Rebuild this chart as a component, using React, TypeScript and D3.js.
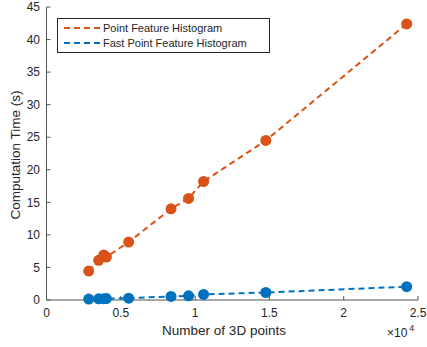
import React, { useEffect, useRef } from "react";
import * as d3 from "d3";

// x values in units of 10^4 points
const xPoints = [0.284, 0.351, 0.385, 0.403, 0.553, 0.838, 0.956, 1.057, 1.476, 2.424];
const pfhTimes = [4.45, 6.1, 6.9, 6.6, 8.9, 14.0, 15.6, 18.2, 24.5, 42.4];
const fpfhTimes = [0.15, 0.18, 0.2, 0.22, 0.28, 0.55, 0.65, 0.85, 1.15, 2.05];

const xTicks = [0, 0.5, 1, 1.5, 2, 2.5];
const yTicks = [0, 5, 10, 15, 20, 25, 30, 35, 40, 45];

const seriesNames = ["Point Feature Histogram", "Fast Point Feature Histogram"];
const seriesColors = ["#D95319", "#0072BD"];

const App = () => {
  const svgRef = useRef<SVGSVGElement>(null);

  useEffect(() => {
    const width = 427;
    const height = 347;
    const svg = d3.select(svgRef.current);
    svg.selectAll("*").remove();

    const font = "'Liberation Sans', Arial, sans-serif";
    const axisColor = "#555";
    const textColor = "#262626";

    const x = d3.scaleLinear().domain([0, 2.5]).range([46.5, 418]);
    const y = d3.scaleLinear().domain([0, 45]).range([300, 7]);

    // y axis
    svg
      .append("line")
      .attr("x1", x(0))
      .attr("x2", x(0))
      .attr("y1", y(0))
      .attr("y2", y(45))
      .attr("stroke", axisColor);
    svg
      .selectAll("line.ytick")
      .data(yTicks)
      .join("line")
      .attr("class", "ytick")
      .attr("x1", x(0))
      .attr("x2", x(0) + 4)
      .attr("y1", (d) => y(d))
      .attr("y2", (d) => y(d))
      .attr("stroke", axisColor);
    svg
      .selectAll("text.ylab")
      .data(yTicks)
      .join("text")
      .attr("class", "ylab")
      .attr("x", 40)
      .attr("y", (d) => y(d))
      .attr("dy", "0.35em")
      .attr("text-anchor", "end")
      .style("font-family", font)
      .style("font-size", "12px")
      .style("fill", textColor)
      .text((d) => d);

    // x axis
    svg
      .append("line")
      .attr("x1", x(0))
      .attr("x2", x(2.5))
      .attr("y1", y(0))
      .attr("y2", y(0))
      .attr("stroke", axisColor);
    svg
      .selectAll("line.xtick")
      .data(xTicks)
      .join("line")
      .attr("class", "xtick")
      .attr("x1", (d) => x(d))
      .attr("x2", (d) => x(d))
      .attr("y1", y(0))
      .attr("y2", y(0) - 4)
      .attr("stroke", axisColor);
    svg
      .selectAll("text.xlab")
      .data(xTicks)
      .join("text")
      .attr("class", "xlab")
      .attr("x", (d) => x(d))
      .attr("y", 317)
      .attr("text-anchor", "middle")
      .style("font-family", font)
      .style("font-size", "12px")
      .style("fill", textColor)
      .text((d) => d);

    // axis titles
    svg
      .append("text")
      .attr("x", 224)
      .attr("y", 335)
      .attr("text-anchor", "middle")
      .style("font-family", font)
      .style("font-size", "13.5px")
      .style("fill", textColor)
      .text("Number of 3D points");
    svg
      .append("text")
      .attr("transform", "translate(20,155) rotate(-90)")
      .attr("text-anchor", "middle")
      .style("font-family", font)
      .style("font-size", "13.5px")
      .style("fill", textColor)
      .text("Computation Time (s)");

    const exp = svg
      .append("text")
      .attr("x", 387)
      .attr("y", 337)
      .style("font-family", font)
      .style("font-size", "12px")
      .style("fill", textColor);
    exp.append("tspan").text("×10");
    exp.append("tspan").attr("dx", 2).attr("dy", -6).style("font-size", "9px").text("4");

    // series
    const line = d3
      .line<number>()
      .x((d, i) => x(xPoints[i]))
      .y((d) => y(d));

    [pfhTimes, fpfhTimes].forEach((vals, si) => {
      svg
        .append("path")
        .attr("d", line(vals))
        .attr("fill", "none")
        .attr("stroke", seriesColors[si])
        .attr("stroke-width", 2)
        .attr("stroke-dasharray", "6,4");
      svg
        .selectAll(`circle.s${si}`)
        .data(vals)
        .join("circle")
        .attr("class", `s${si}`)
        .attr("cx", (d, i) => x(xPoints[i]))
        .attr("cy", (d) => y(d))
        .attr("r", 5.5)
        .attr("fill", seriesColors[si]);
    });

    // legend
    const lg = svg.append("g");
    lg.append("rect")
      .attr("x", 57.5)
      .attr("y", 18.5)
      .attr("width", 212)
      .attr("height", 34)
      .attr("fill", "white")
      .attr("stroke", "#262626");
    seriesNames.forEach((name, i) => {
      const ly = 28 + i * 15;
      lg.append("line")
        .attr("x1", 64)
        .attr("x2", 100)
        .attr("y1", ly)
        .attr("y2", ly)
        .attr("stroke", seriesColors[i])
        .attr("stroke-width", 2)
        .attr("stroke-dasharray", "6,4");
      lg.append("text")
        .attr("x", 103)
        .attr("y", ly)
        .attr("dy", "0.35em")
        .style("font-family", font)
        .style("font-size", "11px")
        .style("fill", textColor)
        .text(name);
    });

    svg.attr("width", width).attr("height", height);
  }, []);

  return (
    <svg
      ref={svgRef}
      width={427}
      height={347}
      style={{ position: "absolute", left: 0, top: 0, background: "white" }}
    />
  );
};

export default App;
